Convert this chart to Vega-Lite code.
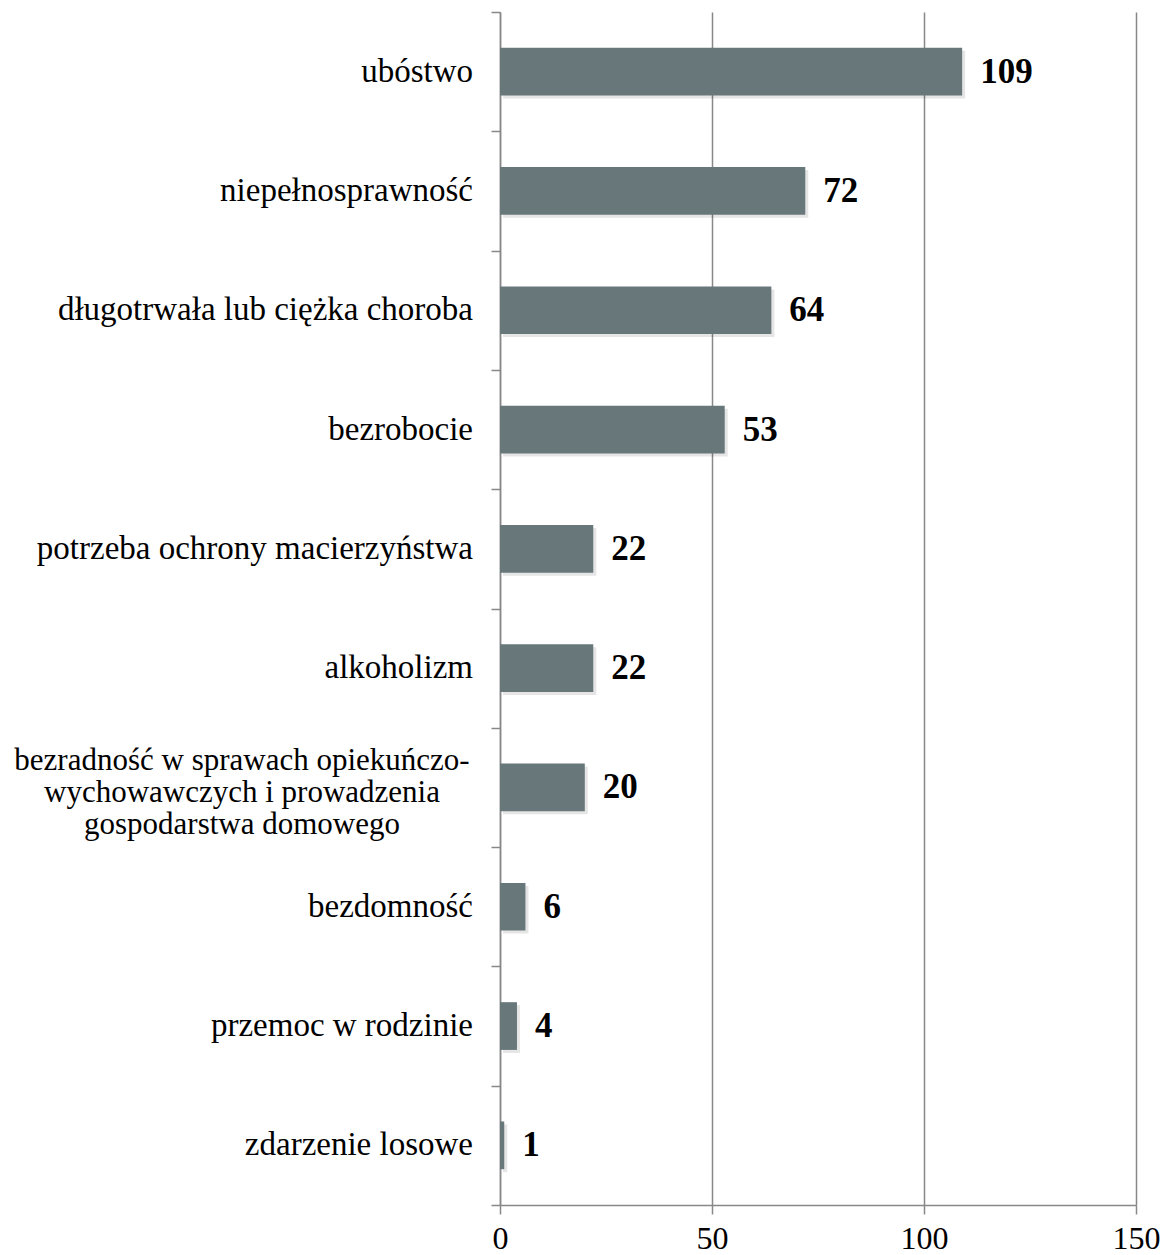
{
  "$schema": "https://vega.github.io/schema/vega-lite/v6.json",
  "autosize": "none",
  "padding": {"left": 500, "top": 12, "right": 34, "bottom": 50},
  "width": 636,
  "height": 1193,
  "background": "white",
  "data": {
    "values": [
      {"kategoria": "ubóstwo", "liczba": 109},
      {"kategoria": "niepełnosprawność", "liczba": 72},
      {"kategoria": "długotrwała lub ciężka choroba", "liczba": 64},
      {"kategoria": "bezrobocie", "liczba": 53},
      {"kategoria": "potrzeba ochrony macierzyństwa", "liczba": 22},
      {"kategoria": "alkoholizm", "liczba": 22},
      {"kategoria": "bezradność w sprawach opiekuńczo-wychowawczych i prowadzenia gospodarstwa domowego", "liczba": 20},
      {"kategoria": "bezdomność", "liczba": 6},
      {"kategoria": "przemoc w rodzinie", "liczba": 4},
      {"kategoria": "zdarzenie losowe", "liczba": 1}
    ]
  },
  "encoding": {
    "y": {
      "field": "kategoria",
      "type": "nominal",
      "sort": null,
      "scale": {"paddingInner": 0, "paddingOuter": 0},
      "axis": {
        "title": null,
        "labels": false,
        "domainColor": "#888888",
        "domainWidth": 1.5,
        "tickColor": "#888888",
        "tickWidth": 1.5,
        "tickSize": 9,
        "tickBand": "extent"
      }
    },
    "x": {
      "field": "liczba",
      "type": "quantitative",
      "scale": {"domain": [0, 150], "nice": false},
      "axis": {
        "title": null,
        "values": [0, 50, 100, 150],
        "grid": true,
        "gridColor": "#888888",
        "gridWidth": 1.5,
        "domainColor": "#888888",
        "domainWidth": 1.5,
        "tickColor": "#888888",
        "tickWidth": 1.5,
        "tickSize": 9,
        "labelPadding": 9,
        "labelFont": "Liberation Serif",
        "labelFontSize": 32,
        "labelColor": "#000000",
        "labelFlush": false
      }
    }
  },
  "layer": [
    {
      "mark": {"type": "bar", "color": "#000000", "opacity": 0.1, "xOffset": 3, "yOffset": 3, "height": {"band": 0.4}}
    },
    {
      "mark": {"type": "bar", "color": "#67777A", "height": {"band": 0.4}}
    },
    {
      "mark": {
        "type": "text",
        "align": "left",
        "baseline": "middle",
        "dx": 18,
        "font": "Liberation Serif",
        "fontSize": 35,
        "fontWeight": "bold",
        "color": "#000000"
      },
      "encoding": {"text": {"field": "liczba", "type": "quantitative"}}
    },
    {
      "transform": [{"filter": "datum.kategoria != 'bezradność w sprawach opiekuńczo-wychowawczych i prowadzenia gospodarstwa domowego'"}],
      "mark": {
        "type": "text",
        "align": "right",
        "baseline": "middle",
        "dx": -27,
        "font": "Liberation Serif",
        "fontSize": 33,
        "color": "#000000"
      },
      "encoding": {
        "x": {"datum": 0},
        "text": {"field": "kategoria", "type": "nominal"}
      }
    },
    {
      "transform": [{"filter": "datum.kategoria == 'bezradność w sprawach opiekuńczo-wychowawczych i prowadzenia gospodarstwa domowego'"}],
      "mark": {
        "type": "text",
        "align": "center",
        "baseline": "middle",
        "dx": -258,
        "dy": -26,
        "lineHeight": 32,
        "font": "Liberation Serif",
        "fontSize": 31,
        "color": "#000000",
        "text": ["bezradność w sprawach opiekuńczo-", "wychowawczych i prowadzenia", "gospodarstwa domowego"]
      },
      "encoding": {
        "x": {"datum": 0}
      }
    }
  ],
  "config": {"view": {"stroke": null}}
}
